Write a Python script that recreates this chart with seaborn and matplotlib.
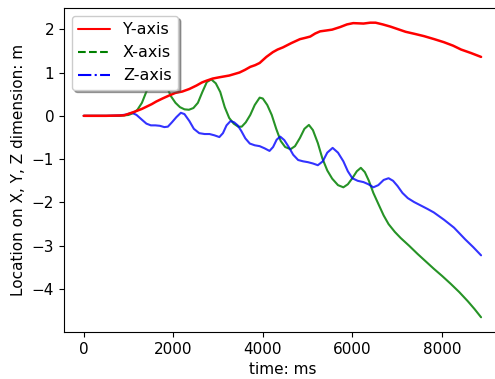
import numpy as np
import pandas as pd
import matplotlib
matplotlib.use("Agg")
import matplotlib.pyplot as plt
from matplotlib.lines import Line2D
import seaborn as sns

# Y-axis (red)
t_y = [0, 500, 900, 1011, 1150, 1300, 1400, 1520, 1620, 1760, 1910, 2050, 2200, 2360, 2520,
       2640, 2740, 2880, 3030, 3250, 3480, 3600, 3720, 3830, 3930, 4080, 4225, 4330, 4450,
       4640, 4830, 4950, 5060, 5170, 5280, 5420, 5550, 5730, 5880, 6020, 6250, 6400, 6520,
       6680, 6850, 7020, 7190, 7400, 7600, 7830, 8045, 8250, 8430, 8650, 8876]
v_y = [0, 0, 0.01, 0.05, 0.1, 0.16, 0.21, 0.27, 0.33, 0.40, 0.47, 0.53, 0.56, 0.62, 0.70,
       0.77, 0.81, 0.86, 0.89, 0.93, 1.0, 1.06, 1.13, 1.17, 1.22, 1.36, 1.47, 1.53, 1.58,
       1.68, 1.77, 1.80, 1.83, 1.90, 1.95, 1.97, 1.99, 2.05, 2.11, 2.14, 2.13, 2.15, 2.15,
       2.11, 2.06, 2.0, 1.94, 1.89, 1.84, 1.77, 1.70, 1.62, 1.53, 1.45, 1.36]

# X-axis (green)
t_x = [0, 500, 800, 1000, 1100, 1200, 1300, 1400, 1500, 1620, 1750, 1850, 1950, 2050, 2150,
       2250, 2350, 2450, 2550, 2650, 2750, 2850, 2950, 3050, 3150, 3250, 3350, 3450, 3530,
       3620, 3720, 3820, 3930, 4000, 4100, 4200, 4300, 4400, 4500, 4620, 4720, 4830, 4930,
       5030, 5120, 5230, 5330, 5440, 5550, 5680, 5800, 5900, 6000, 6100, 6190, 6280, 6370,
       6470, 6580, 6700, 6810, 6950, 7080, 7270, 7460, 7640, 7820, 8010, 8200, 8390, 8580,
       8730, 8876]
v_x = [0, 0, 0.0, 0.02, 0.06, 0.14, 0.3, 0.56, 0.8, 0.95, 0.88, 0.68, 0.45, 0.3, 0.2,
       0.15, 0.14, 0.18, 0.3, 0.55, 0.78, 0.84, 0.75, 0.55, 0.2, -0.05, -0.18, -0.25, -0.25,
       -0.15, 0.02, 0.25, 0.42, 0.4, 0.25, 0.02, -0.3, -0.58, -0.72, -0.77, -0.7, -0.51, -0.3,
       -0.21, -0.33, -0.63, -0.98, -1.26, -1.45, -1.6, -1.65, -1.58, -1.44, -1.28, -1.2, -1.3, -1.5,
       -1.78, -2.03, -2.3, -2.5, -2.68, -2.82, -3.0, -3.19, -3.36, -3.53, -3.7, -3.88, -4.07, -4.28,
       -4.46, -4.65]

# Z-axis (blue)
t_z = [0, 500, 800, 950, 1080, 1180, 1300, 1400, 1500, 1600, 1700, 1800, 1880, 1970, 2070,
       2170, 2250, 2360, 2460, 2580, 2700, 2810, 2920, 3030, 3110, 3190, 3280, 3360, 3440,
       3520, 3610, 3710, 3820, 3930, 4040, 4150, 4230, 4310, 4390, 4480, 4580, 4680, 4790,
       4900, 5010, 5120, 5230, 5340, 5440, 5560, 5680, 5800, 5900, 6000, 6120, 6250, 6360,
       6470, 6580, 6700, 6810, 6910, 7010, 7120, 7240, 7380, 7530, 7680, 7820, 8050, 8270,
       8400, 8520, 8700, 8876]
v_z = [0, 0, 0.01, 0.03, 0.07, 0.02, -0.09, -0.18, -0.22, -0.22, -0.23, -0.26, -0.25, -0.15, -0.03,
       0.07, 0.04, -0.12, -0.3, -0.40, -0.42, -0.42, -0.45, -0.49, -0.4, -0.22, -0.12, -0.15, -0.22,
       -0.35, -0.52, -0.64, -0.68, -0.70, -0.75, -0.81, -0.72, -0.55, -0.48, -0.56, -0.72, -0.9, -1.02,
       -1.05, -1.07, -1.1, -1.14, -1.05, -0.85, -0.74, -0.85, -1.05, -1.28, -1.44, -1.5, -1.53, -1.58,
       -1.65, -1.6, -1.48, -1.44, -1.5, -1.62, -1.78, -1.9, -1.99, -2.07, -2.15, -2.23, -2.4, -2.58,
       -2.72, -2.85, -3.03, -3.22]

labels = ["Y-axis", "X-axis", "Z-axis"]
colors = ["red", "green", "blue"]

sns.set_style("ticks")
plt.rcParams["font.family"] = ["DejaVu Sans"]
plt.rcParams["font.size"] = 11
plt.rcParams["text.color"] = "black"
plt.rcParams["axes.labelcolor"] = "black"
plt.rcParams["xtick.color"] = "black"
plt.rcParams["ytick.color"] = "black"
plt.rcParams["axes.edgecolor"] = "black"

fig = plt.figure(figsize=(4.95, 3.79), dpi=100)
ax = fig.add_axes([0.129, 0.124, 1.012 - 0.129, 0.979 - 0.124])

sns.lineplot(x=t_x, y=v_x, ax=ax, color=colors[1], linewidth=1.5, alpha=0.85, legend=False)
sns.lineplot(x=t_z, y=v_z, ax=ax, color=colors[2], linewidth=1.5, alpha=0.8, legend=False)
sns.lineplot(x=t_y, y=v_y, ax=ax, color=colors[0], linewidth=1.8, legend=False)

ax.set_xticks([0, 2000, 4000, 6000, 8000])
ax.set_yticks([-4, -3, -2, -1, 0, 1, 2])
ax.set_xlabel("time: ms", fontsize=11)
ax.set_ylabel("Location on X, Y, Z dimension: m", fontsize=11)
ax.tick_params(labelsize=11, length=3.5, width=0.8, colors="black")
for s in ax.spines.values():
    s.set_color("black")
    s.set_linewidth(0.8)

handles = [Line2D([], [], color=colors[0], linestyle="-", linewidth=1.5),
           Line2D([], [], color=colors[1], linestyle="--", linewidth=1.5),
           Line2D([], [], color=colors[2], linestyle="-.", linewidth=1.5)]
ax.legend(handles, labels, loc="upper left", shadow=True, fontsize=11.5, frameon=True)

fig.savefig("out.png", dpi=100)
